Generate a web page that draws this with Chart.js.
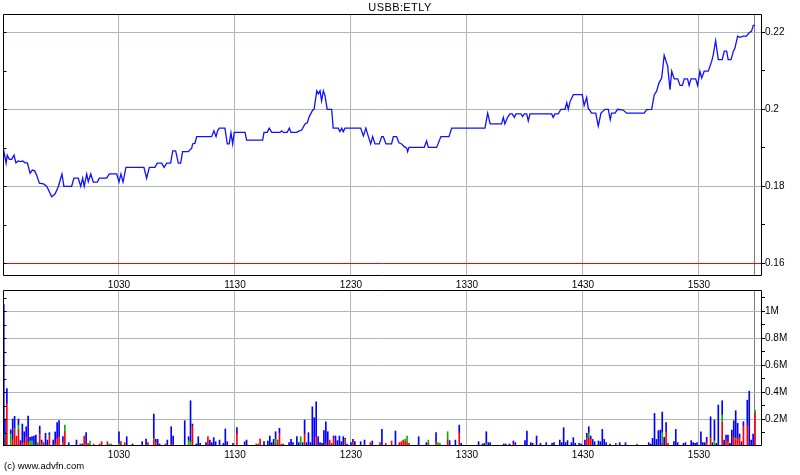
<!DOCTYPE html>
<html><head><meta charset="utf-8">
<script src="https://cdn.jsdelivr.net/npm/chart.js@4.4.1/dist/chart.umd.min.js"></script>
<style>
html,body{margin:0;padding:0;background:#fff;}
#wrap{position:relative;width:800px;height:475px;overflow:hidden;background:#fff;}
canvas{position:absolute;left:0;top:0;}
#title{position:absolute;left:0;top:1px;width:800px;text-align:center;font:11px "Liberation Sans Narrow","Liberation Sans",Arial,sans-serif;letter-spacing:0.4px;color:#000;}
#copy{position:absolute;left:4px;top:460px;font:9.5px "Liberation Sans",Arial,sans-serif;color:#000;}
</style></head><body>
<div id="wrap">
<canvas id="vol" width="800" height="475"></canvas>
<canvas id="price" width="800" height="475"></canvas>
<div id="title">USBB:ETLY</div>
<div id="copy">(c) www.advfn.com</div>
</div>
<script>
// ---- data (x = minutes after 09:30) ----
const xTickMinutes = [60, 120, 180, 240, 300, 360];
const xTickLabels = ['1030', '1130', '1230', '1330', '1430', '1530'];
const lastTradeMinute = 388.6;
const sessionEndMinute = 392.6;

const priceTicks = [0.16, 0.17, 0.18, 0.19, 0.20, 0.21, 0.22];
const priceTickLabels = ['0.16', '', '0.18', '', '0.2', '', '0.22'];
const referencePrice = 0.16;

const volTicks = [0.1, 0.2, 0.3, 0.4, 0.5, 0.6, 0.7, 0.8, 0.9, 1.0, 1.1];
const volTickLabels = ['', '0.2M', '', '0.4M', '', '0.6M', '', '0.8M', '', '1M', ''];

const priceMinutes = [
0,1.6,2.2,3.3,4.5,5.7,6.7,7.9,9.2,10.2,11.4,12.6,14,15.2,16.4,17.4,18.8,20.9,22.6,25.2,
26.9,28.6,30.5,31.5,35.5,36.7,38.9,40.2,41.2,42,43.3,44.1,45.4,46.7,48.8,49.8,53.6,55,58.8,60,
61,62.1,63.6,72.9,74.3,75.7,78.6,79.8,82.1,83.3,84.7,86.7,87.8,89.3,90.7,91.9,92.9,95.8,97.6,98.1,
99.3,100.2,107.9,109.1,110.2,111,111.9,114.8,116,117,117.9,118.8,119.6,125.2,126,134.3,135,136.7,137.7,139,
143.3,144.1,145,147,148.1,149,151.9,153.3,154.5,156.2,157.4,158.4,160.2,160.9,162.3,163.1,164,164.8,165.7,166.5,
167.7,170,170.8,173.4,174.3,175.2,176,176.9,185,186.4,187.7,189,190.2,191.2,192.4,194.6,195.9,196.7,198.1,201,
201.9,203.6,204.8,206.2,207.6,208.8,209.3,210,217.9,219.1,220,224.3,225.5,226.5,230.7,232.1,249.3,250.7,252,257.9,
258.8,259.6,261,262.2,263.4,264.5,265.3,267.9,268.8,269.6,270.9,271.7,272.6,283.8,284.6,285.5,287.2,288.6,290.7,291.6,
292.4,293.3,295,299.6,300.6,301.9,302.7,304.5,306.6,307.9,309.3,311.4,313.1,314.1,314.8,316.6,317.9,320.8,322.6,331.7,
332.9,335.5,336.9,338.1,339.3,340.7,342,343.8,345,345.9,347.2,349,350.2,351.4,352.4,354.1,354.9,355.9,358.3,359.3,
360.5,361.4,362.7,364.8,366.6,367.4,368.6,370,372,373.1,374.3,375.1,376.6,377.8,378.6,380,381.2,382.9,384.6,385.8,
387.2,388.1,389
];
const priceValues = [
0.1903,0.1860,0.1881,0.1870,0.1870,0.1881,0.1861,0.1866,0.1864,0.1866,0.1861,0.1861,0.1834,0.1842,0.1840,0.1829,0.1808,0.1806,0.1800,0.1773,
0.1780,0.1799,0.1832,0.1800,0.1800,0.1821,0.1821,0.1800,0.1821,0.1800,0.1832,0.1812,0.1832,0.1811,0.1811,0.1821,0.1821,0.1832,0.1832,0.1811,
0.1832,0.1811,0.1849,0.1849,0.1821,0.1849,0.1849,0.1860,0.1860,0.1849,0.1860,0.1860,0.1892,0.1892,0.1860,0.1860,0.1890,0.1890,0.1899,0.1910,
0.1912,0.1929,0.1929,0.1944,0.1929,0.1944,0.1951,0.1951,0.1910,0.1910,0.1939,0.1910,0.1940,0.1940,0.1920,0.1920,0.1940,0.1940,0.1951,0.1940,
0.1940,0.1944,0.1940,0.1940,0.1951,0.1940,0.1940,0.1944,0.1946,0.1962,0.1965,0.1981,0.1998,0.2000,0.2048,0.2040,0.2048,0.2022,0.2048,0.2037,
0.2000,0.2000,0.1951,0.1951,0.1942,0.1951,0.1942,0.1951,0.1951,0.1931,0.1951,0.1929,0.1910,0.1929,0.1910,0.1910,0.1929,0.1929,0.1910,0.1910,
0.1929,0.1929,0.1913,0.1910,0.1903,0.1899,0.1890,0.1901,0.1901,0.1918,0.1901,0.1901,0.1916,0.1929,0.1929,0.1951,0.1951,0.1990,0.1962,0.1962,
0.1979,0.1962,0.1979,0.1988,0.1988,0.1979,0.1988,0.1988,0.1981,0.1988,0.1988,0.1970,0.1988,0.1988,0.1979,0.1988,0.1988,0.2000,0.2000,0.2017,
0.2000,0.2020,0.2038,0.2038,0.2010,0.2031,0.2003,0.1990,0.1990,0.1956,0.1990,0.2000,0.2000,0.1973,0.1990,0.1990,0.2000,0.1998,0.1990,0.1990,
0.1999,0.2000,0.2038,0.2047,0.2068,0.2081,0.2140,0.2112,0.2051,0.2099,0.2079,0.2079,0.2062,0.2062,0.2079,0.2079,0.2062,0.2079,0.2079,0.2062,
0.2099,0.2081,0.2099,0.2099,0.2125,0.2142,0.2178,0.2129,0.2129,0.2151,0.2151,0.2129,0.2129,0.2151,0.2159,0.2190,0.2187,0.2190,0.2190,0.2198,
0.2203,0.2218,0.2218
];

// volume, millions of shares, split by trade colour
const volMinutes = [
0.4,1,2,4,5,6,7,8,9,10,
11,12,13,14,15,16,17,18,19,20,
21,22,23,24,26,27,28,29,31,32,
34,38,40,41,42,43,44,45,47,50,
51,54,55,56,60,61,63,64,67,72,
74,75,78,79,80,81,84,85,87,88,
94,96,97,98,100,101,102,105,106,107,
108,109,110,112,114,115,116,119,121,125,
126,131,132,133,135,137,138,139,140,141,
142,143,144,145,148,149,150,152,153,154,
155,156,157,158,159,160,161,162,163,164,
165,166,167,168,169,170,171,172,173,174,
175,176,177,178,180,181,182,185,187,190,
191,195,196,198,201,203,205,206,207,208,
209,210,215,219,220,224,225,226,230,231,
234,236,237,246,248,249,250,251,252,259,
260,262,264,265,270,271,273,274,276,278,
281,284,285,288,289,290,291,292,294,295,
296,298,299,301,302,303,304,305,306,308,
309,310,311,312,314,317,319,322,328,334,
335,336,337,338,339,340,341,342,343,344,
347,348,349,352,353,356,357,358,359,361,
362,363,364,366,367,368,369,370,372,373,
374,375,376,377,378,379,380,381,382,383,
385,386,387,388,389
];
const volRed = [
.06,0,.316,0,.05,.12,.074,.12,0,.02,
.03,.07,.03,0,0,0,0,0,.094,.02,
.025,0,0,.07,0,.02,.057,.07,.03,.105,
0,.01,.015,0,.074,.02,.02,0,.015,.015,
.032,.032,0,0,0,.032,.025,0,0,0,
0,.025,.044,.03,0,0,.015,0,.02,0,
0,0,0,.15,0,0,0,0,.069,0,
0,0,0,0,0,0,0,.01,.094,0,
0,.015,.015,.052,0,0,0,0,0,.01,
.03,.094,.015,.015,0,0,0,0,0,0,
0,.089,0,0,0,0,0,.07,0,0,
0,0,.02,0,.044,.02,.064,0,0,0,
0,0,.04,0,0,.03,0,0,0,.025,
0,.025,0,.02,.037,0,.025,.032,.044,.03,
.024,.02,0,0,.019,.032,0,0,.046,0,
0,.099,0,0,0,0,0,0,0,0,
0,0,.02,0,0,0,0,0,0,0,
0,0,0,0,0,0,0,0,0,0,
0,0,0,0,.06,.057,.05,0,0,0,
0,0,0,0,0,.02,0,.01,.015,0,
0,0,0,0,0,0,.02,0,.106,.02,
0,0,0,0,0,0,0,0,0,0,
0,0,.03,.064,0,0,0,0,.173,0,
.05,.032,0,0,.069,.044,.057,.064,0,.15,
.155,0,0,0,.242
];
const volGreen = [
.03,0,0,.09,0,.01,0,.037,0,0,
0,0,0,.04,.04,0,0,.025,0,0,
0,0,0,.01,0,0,0,0,0,.05,
0,0,0,0,0,0,0,.037,0,0,
0,0,.015,.015,.02,0,0,0,0,0,
0,0,.01,0,0,0,0,0,0,0,
0,.04,.03,0,0,0,0,0,0,0,
0,0,0,0,0,0,0,0,0,0,
0,0,0,0,0,0,0,0,0,.04,
.01,0,0,0,0,0,0,0,0,.069,
0,0,0,0,0,0,0,0,0,0,
0,0,0,0,0,0,0,0,0,0,
0,0,.01,0,0,0,0,0,0,0,
0,0,0,0,0,0,0,0,0,.019,
.05,0,0,0,.025,0,.025,.02,.06,0,
0,0,0,0,0,0,.02,0,0,0,
0,0,0,0,0,0,0,0,0,0,
0,0,0,0,0,0,0,0,0,0,
0,0,0,0,0,.04,0,0,0,0,
0,0,0,0,0,0,0,0,0,0,
0,0,0,0,0,0,.08,0,0,0,
0,0,0,0,0,0,0,0,0,0,
0,0,0,0,0,.04,0,0,.057,0,
0,0,0,0,0,.015,0,0,0,0,
0,0,0,0,.025
];
const volBlue = [
.96,.2,.111,.03,.15,.09,0,.043,.04,.143,
.076,.073,.192,.024,.03,.074,.081,0,.054,.024,
0,.094,.044,.019,.044,.084,.116,.118,.04,0,
.025,.034,0,.015,0,.079,0,0,0,0,
0,0,0,0,.086,0,0,.069,.015,.032,
.052,0,.183,.02,.049,.015,0,.044,.123,.074,
.188,.029,.306,.013,.015,.069,.02,.025,0,.044,
.025,.062,.032,.044,.02,.126,.032,.01,.042,.032,
.044,0,0,0,.032,.037,.074,.025,.049,.056,
.004,.037,0,0,.025,.049,.025,.069,.025,0,
.025,.104,.025,.099,.025,.291,.21,.258,.069,.025,
.02,.114,.16,.106,0,0,.01,.074,.04,.074,
.032,.069,.007,.015,.025,.019,.032,.032,.044,0,
.037,0,.123,0,0,.111,0,0,0,0,
0,0,.069,.025,0,.067,0,0,0,.04,
.044,.056,.02,.032,.015,.02,.086,.025,.025,.015,
.015,.015,.017,.025,.04,.111,.025,.02,.074,.02,
.025,.02,.025,.044,.025,.136,.025,.04,.025,.062,
.02,.02,.015,.044,.034,.046,.024,.049,.032,.037,
.032,.123,.049,.025,.015,0,.025,.015,0,.025,
.015,.057,.242,.049,.114,.119,.152,.064,.067,0,
.032,.123,.025,.02,.025,.04,.025,.02,.025,.106,
.025,.025,.034,.153,.025,.153,.02,.304,.106,.044,
.031,.049,.02,.119,.119,.203,.111,.025,.032,.03,
.185,.407,.044,.089,0
];

// ---- rendering ----
const FONT = '"Liberation Sans Narrow", "Liberation Sans", Arial, sans-serif';
const H_GRID = '#a9b8bc';
const V_GRID = '#b4b4b4';

const framePlugin = {
  id: 'frame',
  afterDraw(chart) {
    const {ctx, chartArea: a, scales} = chart;
    ctx.save();
    const l = Math.round(a.left) + 0.5, t = Math.round(a.top) + 0.5;
    const r = Math.round(a.right) - 0.5, b = Math.round(a.bottom) - 0.5;
    const ys = scales.y;
    const ref = chart.options.plugins.frame && chart.options.plugins.frame.refValue;
    if (typeof ref === 'number') {
      const py = Math.round(ys.getPixelForValue(ref)) + 0.5;
      ctx.strokeStyle = '#ff0000';
      ctx.lineWidth = 1;
      ctx.beginPath();
      ctx.moveTo(l, py); ctx.lineTo(r, py);
      ctx.stroke();
    }
    ctx.strokeStyle = '#000';
    ctx.lineWidth = 1;
    ctx.beginPath();
    ctx.rect(l, t, r - l, b - t);
    ys.ticks.forEach(tk => {
      const py = Math.round(ys.getPixelForValue(tk.value)) + 0.5;
      ctx.moveTo(l, py); ctx.lineTo(l + 3, py);
    });
    ctx.stroke();
    ctx.restore();
  }
};

function xScale(axisHeight) {
  return {
    type: 'linear', min: 0, max: sessionEndMinute, offset: false,
    afterBuildTicks: s => { s.ticks = xTickMinutes.concat([lastTradeMinute]).map(v => ({value: v})); },
    afterFit: s => { s.height = axisHeight; },
    grid: {
      color: c => (c.tick && c.tick.value === lastTradeMinute) ? '#7c7c7c' : V_GRID,
      lineWidth: 1, drawTicks: false, offset: false
    },
    border: {display: false},
    ticks: {
      padding: 3, maxRotation: 0, autoSkip: false, color: '#000',
      font: {family: FONT, size: 10},
      callback: v => { const k = xTickMinutes.indexOf(v); return k >= 0 ? xTickLabels[k] : ''; }
    }
  };
}

function yScale(min, max, ticks, labels) {
  return {
    position: 'right', min: min, max: max,
    afterBuildTicks: s => { s.ticks = ticks.map(v => ({value: v})); },
    afterFit: s => { s.width = 38; },
    grid: {
      color: c => labels[c.index] ? H_GRID : 'rgba(0,0,0,0)',
      tickColor: '#000', tickLength: 3, drawTicks: true, lineWidth: 1
    },
    border: {display: false},
    ticks: {
      padding: 0, autoSkip: false, color: '#000',
      font: {family: FONT, size: 10},
      callback: (v, i) => labels[i]
    }
  };
}

new Chart(document.getElementById('price'), {
  type: 'line',
  data: {
    datasets: [{
      data: priceMinutes.map((m, i) => ({x: m, y: priceValues[i]})),
      borderColor: '#1010ff', borderWidth: 1.3, pointRadius: 0, tension: 0, fill: false
    }]
  },
  options: {
    responsive: false, animation: false, devicePixelRatio: 1,
    layout: {padding: {left: 3, top: 14, right: 0, bottom: 185}},
    plugins: {legend: {display: false}, tooltip: {enabled: false}, frame: {refValue: referencePrice}},
    scales: {
      x: xScale(14),
      y: yScale(0.1567, 0.22475, priceTicks, priceTickLabels)
    }
  },
  plugins: [framePlugin]
});

const mk = (arr) => volMinutes.map((m, i) => ({x: m, y: arr[i] ? arr[i] : null}));
new Chart(document.getElementById('vol'), {
  type: 'bar',
  data: {
    datasets: [
      {data: mk(volRed), backgroundColor: '#ff0000'},
      {data: mk(volGreen), backgroundColor: '#00b400'},
      {data: mk(volBlue), backgroundColor: '#0000ff'}
    ]
  },
  options: {
    responsive: false, animation: false, devicePixelRatio: 1,
    layout: {padding: {left: 3, top: 290, right: 0, bottom: 0}},
    plugins: {legend: {display: false}, tooltip: {enabled: false}, frame: {}},
    datasets: {bar: {barThickness: 1, borderWidth: 0, grouped: false}},
    scales: {
      x: Object.assign(xScale(29), {stacked: true}),
      y: Object.assign(yScale(0, 1.158, volTicks, volTickLabels), {stacked: true})
    }
  },
  plugins: [framePlugin]
});
</script>
</body></html>
